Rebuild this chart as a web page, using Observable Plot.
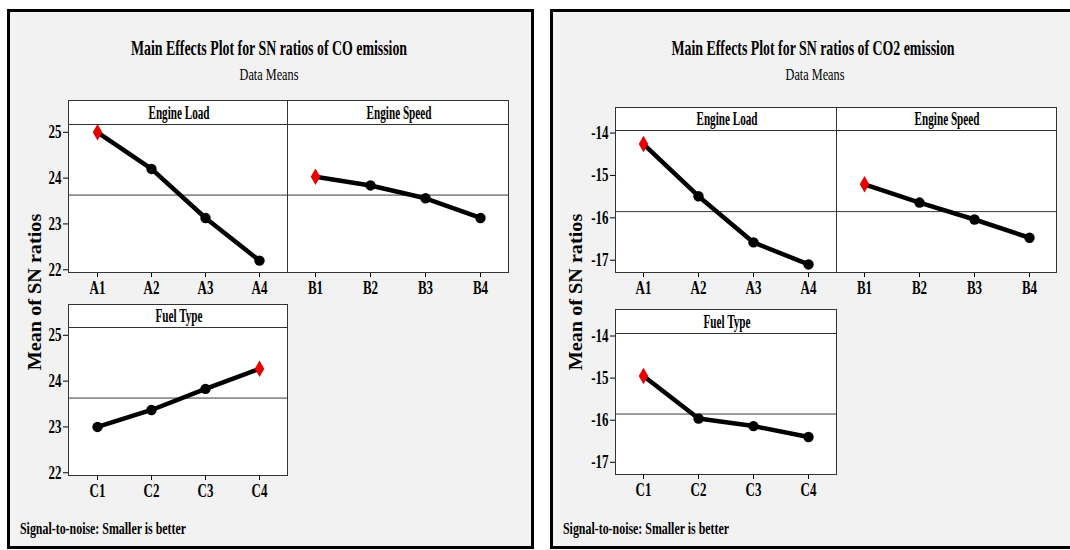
<!DOCTYPE html>
<html>
<head>
<meta charset="utf-8">
<script src="https://cdn.jsdelivr.net/npm/d3@7"></script>
<script src="https://cdn.jsdelivr.net/npm/@observablehq/plot@0.6"></script>
<style>
  body { margin: 0; background: #fff; width: 1070px; height: 550px; overflow: hidden; position: relative;
         font-family: "Liberation Serif", "Times New Roman", serif; color: #000; }
  .panel { position: absolute; box-sizing: border-box; border: 3px solid #000; background: #f2f2f2; }
  .chart { position: absolute; }
  .lbl { position: absolute; white-space: nowrap; }
  .lbl span { display: inline-block; }
  .head { position: absolute; box-sizing: border-box; background: #fff; border: 1px solid #333; }
</style>
</head>
<body>
<script>
// Factor levels
const loadLevels = ["A1", "A2", "A3", "A4"];
const speedLevels = ["B1", "B2", "B3", "B4"];
const fuelLevels = ["C1", "C2", "C3", "C4"];

// Mean S/N ratios, CO emission
const coLoad = [25.0, 24.2, 23.13, 22.2];
const coSpeed = [24.03, 23.84, 23.56, 23.13];
const coFuel = [23.0, 23.37, 23.83, 24.27];
const coTicks = [22, 23, 24, 25];
const coDomain = [21.94, 25.17];

// Mean S/N ratios, CO2 emission
const co2Load = [-14.26, -15.49, -16.58, -17.1];
const co2Speed = [-15.21, -15.64, -16.04, -16.47];
const co2Fuel = [-14.95, -15.96, -16.14, -16.4];
const co2Ticks = [-17, -16, -15, -14];
const co2Domain = [-17.29, -13.94];

const FONT = '"Liberation Serif", "Times New Roman", serif';

function box(cls, x, y, w, h) {
  const el = document.createElement("div");
  el.className = cls;
  Object.assign(el.style, {left: x + "px", top: y + "px", width: w + "px", height: h + "px"});
  document.body.appendChild(el);
  return el;
}

// Horizontal text, narrowed like the Minitab export; (x, cy) is the anchor point / vertical centre
function label(text, x, cy, {size = 16, weight = "bold", squeeze = 0.68, anchor = "middle", parent = document.body} = {}) {
  const el = document.createElement("div");
  el.className = "lbl";
  el.style.fontSize = size + "px";
  el.style.lineHeight = size + "px";
  el.style.fontWeight = weight;
  el.style.left = x + "px";
  el.style.top = (cy - size / 2) + "px";
  const span = document.createElement("span");
  span.textContent = text;
  span.style.transformOrigin = anchor === "middle" ? "center" : "left";
  span.style.transform = `scaleX(${squeeze})`;
  if (anchor === "middle") el.style.transform = "translateX(-50%)";
  el.appendChild(span);
  parent.appendChild(el);
  return el;
}

// Rotated y-axis title centred at (cx, cy)
function yTitle(text, cx, cy, size, length) {
  const el = document.createElement("div");
  el.className = "lbl";
  el.style.fontSize = size + "px";
  el.style.lineHeight = size + "px";
  el.style.fontWeight = "bold";
  el.style.left = cx + "px";
  el.style.top = cy + "px";
  el.textContent = text;
  document.body.appendChild(el);
  const s = length / el.offsetWidth;
  el.style.transform = `translate(-50%, -50%) rotate(-90deg) scaleX(${s})`;
}

function squeezeText(svg, s) {
  svg.querySelectorAll("text").forEach(t => {
    const w = t.getComputedTextLength();
    if (w > 0) {
      t.setAttribute("textLength", w * s);
      t.setAttribute("lengthAdjust", "spacingAndGlyphs");
    }
  });
}

// One factor's main-effects panel: header strip + plot area
function effects({name, levels, values, domain, ticks, mean, left, headTop, top, width, height, yAxis}) {
  const head = box("head", left, headTop, width + 1, top - headTop + 1);
  label(name, width / 2, (top - headTop) / 2 - 0.5, {size: 18, squeeze: 0.62, parent: head});

  const data = levels.map((level, i) => ({level, value: values[i]}));
  const best = d3.max(values);
  const ml = yAxis ? 45 : 0, mt = 1, mr = 1, mb = 34;
  const chart = Plot.plot({
    width: width + ml + mr,
    height: height + mt + mb,
    marginLeft: ml, marginRight: mr, marginTop: mt, marginBottom: mb,
    style: {background: "transparent", overflow: "visible", fontFamily: FONT, fontSize: "18px", fontWeight: "bold", color: "#000"},
    x: {type: "point", domain: levels, padding: 0.5, label: null, tickSize: 5, tickPadding: 4},
    y: {domain, ticks, tickFormat: d => String(d), label: null, tickSize: 5, tickPadding: 2, axis: yAxis ? "left" : null},
    marks: [
      Plot.frame({fill: "#fff"}),
      Plot.ruleY([mean], {stroke: "#3a3a3a", strokeWidth: 1}),
      Plot.line(data, {x: "level", y: "value", stroke: "#000", strokeWidth: 4.5}),
      Plot.dot(data.filter(d => d.value !== best), {x: "level", y: "value", r: 5.2, fill: "#000"}),
      Plot.dot(data.filter(d => d.value === best), {x: "level", y: "value", r: 5, symbol: "diamond", fill: "#e60000"}),
      Plot.frame({stroke: "#333"})
    ]
  });
  const wrap = box("chart", left - ml, top - mt, width + ml + mr, height + mt + mb);
  wrap.appendChild(chart);
  squeezeText(chart, 0.72);
}

// Panel backgrounds
box("panel", 7, 9, 527, 540);
box("panel", 550, 9, 540, 540);

// ---- CO emission ----
const coMean = d3.mean(coLoad.concat(coSpeed, coFuel));
label("Main Effects Plot for SN ratios of CO emission", 269, 48, {size: 21, squeeze: 0.66});
label("Data Means", 269, 74, {size: 17, weight: "normal", squeeze: 0.72});
effects({name: "Engine Load", levels: loadLevels, values: coLoad, domain: coDomain, ticks: coTicks, mean: coMean,
         left: 68, headTop: 100, top: 124, width: 219, height: 148, yAxis: true});
effects({name: "Engine Speed", levels: speedLevels, values: coSpeed, domain: coDomain, ticks: coTicks, mean: coMean,
         left: 287, headTop: 100, top: 124, width: 221, height: 148, yAxis: false});
effects({name: "Fuel Type", levels: fuelLevels, values: coFuel, domain: coDomain, ticks: coTicks, mean: coMean,
         left: 68, headTop: 304, top: 327, width: 219, height: 148, yAxis: true});
yTitle("Mean of SN ratios", 35, 292, 18, 156);
label("Signal-to-noise: Smaller is better", 20, 528, {size: 17, anchor: "start", squeeze: 0.70});

// ---- CO2 emission ----
const co2Mean = d3.mean(co2Load.concat(co2Speed, co2Fuel));
label("Main Effects Plot for SN ratios of CO2 emission", 813, 48, {size: 21, squeeze: 0.66});
label("Data Means", 815, 74, {size: 17, weight: "normal", squeeze: 0.72});
effects({name: "Engine Load", levels: loadLevels, values: co2Load, domain: co2Domain, ticks: co2Ticks, mean: co2Mean,
         left: 615, headTop: 107, top: 130, width: 221, height: 142, yAxis: true});
effects({name: "Engine Speed", levels: speedLevels, values: co2Speed, domain: co2Domain, ticks: co2Ticks, mean: co2Mean,
         left: 836, headTop: 107, top: 130, width: 220, height: 142, yAxis: false});
effects({name: "Fuel Type", levels: fuelLevels, values: co2Fuel, domain: co2Domain, ticks: co2Ticks, mean: co2Mean,
         left: 615, headTop: 309, top: 333, width: 221, height: 141, yAxis: true});
yTitle("Mean of SN ratios", 576, 292, 18, 156);
label("Signal-to-noise: Smaller is better", 563, 528, {size: 17, anchor: "start", squeeze: 0.70});
</script>
</body>
</html>
